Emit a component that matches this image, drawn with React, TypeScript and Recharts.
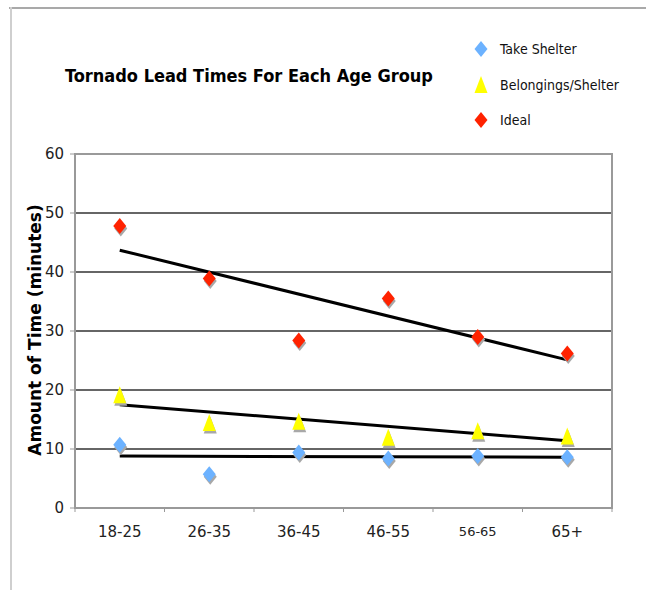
import { ComposedChart, Line, XAxis, YAxis, CartesianGrid, ReferenceArea } from 'recharts'

const AGE_GROUPS = ['18-25', '26-35', '36-45', '46-55', '56-65', '65+']
const TAKE_SHELTER = [10.7, 5.7, 9.4, 8.4, 8.8, 8.6]
const BELONGINGS = [19.1, 14.4, 14.6, 11.9, 13.0, 12.1]
const IDEAL = [47.8, 38.9, 28.4, 35.5, 29.0, 26.2]
// trend line ends (first and last age group)
const TAKE_SHELTER_TREND = [8.8, 8.6]
const BELONGINGS_TREND = [17.5, 11.4]
const IDEAL_TREND = [43.7, 25.1]
const Y_TICKS = [0, 10, 20, 30, 40, 50, 60]

const COLORS = {
  takeShelter: '#6cb2ff',
  belongings: '#ffff00',
  ideal: '#ff2200',
  shadow: '#a8a8a8',
}

const last = AGE_GROUPS.length - 1
const data = AGE_GROUPS.map((group, i) => ({
  group,
  takeShelter: TAKE_SHELTER[i],
  belongings: BELONGINGS[i],
  ideal: IDEAL[i],
  takeShelterTrend: i === 0 ? TAKE_SHELTER_TREND[0] : i === last ? TAKE_SHELTER_TREND[1] : null,
  belongingsTrend: i === 0 ? BELONGINGS_TREND[0] : i === last ? BELONGINGS_TREND[1] : null,
  idealTrend: i === 0 ? IDEAL_TREND[0] : i === last ? IDEAL_TREND[1] : null,
}))

const diamondPath = (cx: number, cy: number) =>
  `M${cx},${cy - 8}L${cx + 6.5},${cy}L${cx},${cy + 8}L${cx - 6.5},${cy}Z`
const trianglePath = (cx: number, cy: number) =>
  `M${cx},${cy - 9}L${cx + 6.5},${cy + 8}L${cx - 6.5},${cy + 8}Z`

function makeDot(color: string, shape: 'diamond' | 'triangle') {
  return (props: any) => {
    const { cx, cy, index } = props
    if (cx == null || cy == null) return <g key={`d-${index}`} />
    const p = shape === 'diamond' ? diamondPath : trianglePath
    return (
      <g key={`d-${shape}-${color}-${index}`}>
        <path d={p(cx + 1, cy + 2.5)} fill={COLORS.shadow} />
        <path d={p(cx, cy)} fill={color} />
      </g>
    )
  }
}

function AgeTick(props: any) {
  const { x, payload, index } = props
  const half = 44.75
  const axisY = 508
  const small = payload.value === '56-65'
  return (
    <g>
      <line x1={x - half} x2={x - half} y1={axisY} y2={axisY + 4} stroke="#999" />
      {index === last && (
        <line x1={x + half} x2={x + half} y1={axisY} y2={axisY + 4} stroke="#999" />
      )}
      <text
        x={x}
        y={axisY + 24}
        textAnchor="middle"
        fontSize={small ? 13 : 15}
        fontFamily="DejaVu Sans"
        fill="#222"
        dominantBaseline="middle"
      >
        {payload.value}
      </text>
    </g>
  )
}

function LegendMarker({ color, shape }: { color: string; shape: 'diamond' | 'triangle' }) {
  const p = shape === 'diamond' ? diamondPath : trianglePath
  return (
    <svg width={16} height={20} style={{ display: 'block' }}>
      <path d={p(8, 10)} fill={color} />
    </svg>
  )
}

const legendItems = [
  { label: 'Take Shelter', color: COLORS.takeShelter, shape: 'diamond' as const, y: 49 },
  { label: 'Belongings/Shelter', color: COLORS.belongings, shape: 'triangle' as const, y: 85 },
  { label: 'Ideal', color: COLORS.ideal, shape: 'diamond' as const, y: 120 },
]

export default function App() {
  return (
    <div
      style={{
        position: 'absolute',
        left: 0,
        top: 0,
        width: 646,
        height: 590,
        background: '#fff',
        overflow: 'hidden',
      }}
    >
      {/* outer frame */}
      <div style={{ position: 'absolute', left: 9, top: 7, right: 0, height: 0, borderTop: '2px solid #a9a9a9' }} />
      <div style={{ position: 'absolute', left: 10, top: 7, bottom: 0, width: 0, borderLeft: '2px solid #cfcfcf' }} />

      <ComposedChart
        width={646}
        height={590}
        data={data}
        margin={{ top: 154, right: 34, left: 35, bottom: 52 }}
      >
        <CartesianGrid vertical={false} stroke="#333" strokeWidth={1.5} />
        <ReferenceArea y1={0} y2={60} fill="none" stroke="#9a9a9a" strokeWidth={2} ifOverflow="visible" />
        <XAxis
          dataKey="group"
          scale="band"
          height={30}
          tickLine={false}
          axisLine={{ stroke: '#999', strokeWidth: 1.5 }}
          tick={<AgeTick />}
          interval={0}
        />
        <YAxis
          width={40}
          domain={[0, 60]}
          ticks={Y_TICKS}
          interval={0}
          tickSize={5}
          tickMargin={6}
          tickLine={{ stroke: '#999' }}
          axisLine={{ stroke: '#999', strokeWidth: 1.5 }}
          tick={{ fontSize: 15, fontFamily: 'DejaVu Sans', fill: '#222' }}
        />
        <Line dataKey="takeShelter" stroke="none" dot={makeDot(COLORS.takeShelter, 'diamond')} activeDot={false} isAnimationActive={false} />
        <Line dataKey="belongings" stroke="none" dot={makeDot(COLORS.belongings, 'triangle')} activeDot={false} isAnimationActive={false} />
        <Line dataKey="ideal" stroke="none" dot={makeDot(COLORS.ideal, 'diamond')} activeDot={false} isAnimationActive={false} />
        <Line dataKey="takeShelterTrend" stroke="#000" strokeWidth={3} dot={false} activeDot={false} connectNulls isAnimationActive={false} />
        <Line dataKey="belongingsTrend" stroke="#000" strokeWidth={3} dot={false} activeDot={false} connectNulls isAnimationActive={false} />
        <Line dataKey="idealTrend" stroke="#000" strokeWidth={3} dot={false} activeDot={false} connectNulls isAnimationActive={false} />
      </ComposedChart>

      {/* title */}
      <div
        style={{
          position: 'absolute',
          left: 49,
          width: 400,
          top: 64,
          textAlign: 'center',
          fontFamily: '"DejaVu Sans Condensed", "DejaVu Sans"',
          fontWeight: 'bold',
          fontSize: 18,
          color: '#000',
          lineHeight: '24px',
        }}
      >
        Tornado Lead Times For Each Age Group
      </div>

      {/* y axis label */}
      <div
        style={{
          position: 'absolute',
          left: 35 - 150,
          top: 330 - 11,
          width: 300,
          height: 22,
          lineHeight: '22px',
          textAlign: 'center',
          transform: 'rotate(-90deg)',
          fontFamily: '"DejaVu Sans"',
          fontWeight: 'bold',
          fontSize: 17,
          color: '#000',
        }}
      >
        Amount of Time (minutes)
      </div>

      {/* legend */}
      {legendItems.map(item => (
        <div
          key={item.label}
          style={{
            position: 'absolute',
            left: 473,
            top: item.y - 10,
            height: 20,
            display: 'flex',
            alignItems: 'center',
          }}
        >
          <LegendMarker color={item.color} shape={item.shape} />
          <span
            style={{
              marginLeft: 11,
              fontFamily: '"DejaVu Sans Condensed", "DejaVu Sans"',
              fontSize: 14,
              color: '#111',
              lineHeight: '20px',
            }}
          >
            {item.label}
          </span>
        </div>
      ))}
    </div>
  )
}
